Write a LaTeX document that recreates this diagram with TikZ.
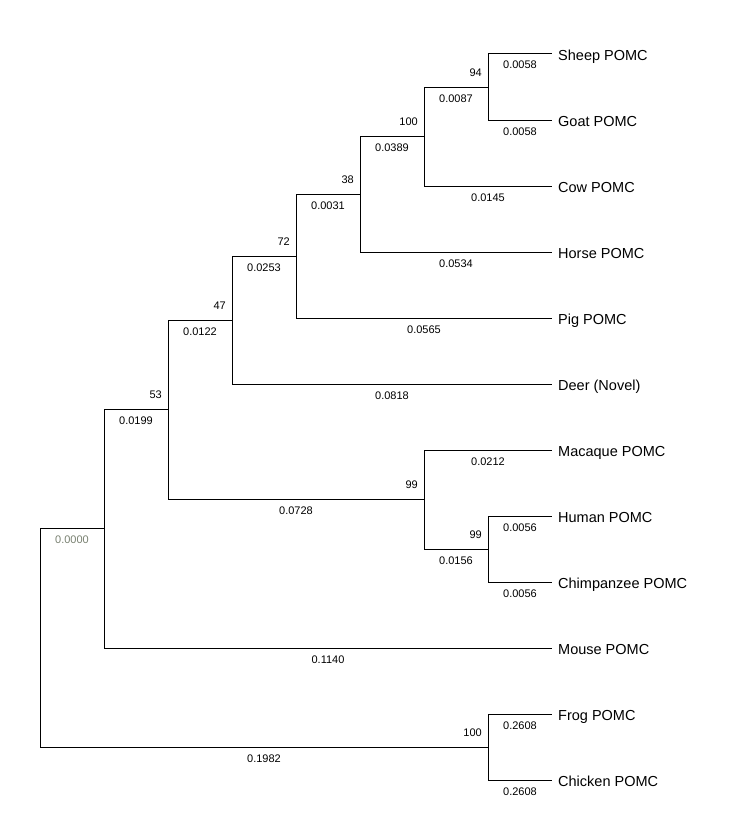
\documentclass[tikz,border=0pt]{standalone}
\usepackage{fontspec}
\setmainfont{Liberation Sans}
\begin{document}
\begin{tikzpicture}[x=1pt,y=-1pt,
  branch/.style={line width=1pt,black},
  brlen/.style={anchor=base,inner sep=0pt,font=\fontsize{11}{13}\selectfont},
  boot/.style={anchor=base east,inner sep=0pt,font=\fontsize{11}{13}\selectfont},
  leaf/.style={anchor=base west,inner sep=0pt,font=\fontsize{14.5}{17}\selectfont}]
\useasboundingbox (0,0) rectangle (728,816);
% leaf tips
\coordinate (tSheep) at (552,54);
\coordinate (tGoat) at (552,120);
\coordinate (tCow) at (552,186);
\coordinate (tHorse) at (552,252);
\coordinate (tPig) at (552,318);
\coordinate (tDeer) at (552,384);
\coordinate (tMacaque) at (552,450);
\coordinate (tHuman) at (552,516);
\coordinate (tChimp) at (552,582);
\coordinate (tMouse) at (552,648);
\coordinate (tFrog) at (552,714);
\coordinate (tChicken) at (552,780);
% internal nodes
\coordinate (A) at (488,87);
\coordinate (B) at (424,136.5);
\coordinate (C) at (360,194.25);
\coordinate (D) at (296,256.1);
\coordinate (E) at (232,320.1);
\coordinate (P2) at (488,549);
\coordinate (P1) at (424,499.5);
\coordinate (F) at (168,409.8);
\coordinate (G) at (104,528.9);
\coordinate (H) at (488,747);
\coordinate (R) at (40,637.95);
% branches
\draw[branch] (A) |- (tSheep) (A) |- (tGoat);
\draw[branch] (B) |- (A) (B) |- (tCow);
\draw[branch] (C) |- (B) (C) |- (tHorse);
\draw[branch] (D) |- (C) (D) |- (tPig);
\draw[branch] (E) |- (D) (E) |- (tDeer);
\draw[branch] (P2) |- (tHuman) (P2) |- (tChimp);
\draw[branch] (P1) |- (tMacaque) (P1) |- (P2);
\draw[branch] (F) |- (E) (F) |- (P1);
\draw[branch] (G) |- (F) (G) |- (tMouse);
\draw[branch] (H) |- (tFrog) (H) |- (tChicken);
\draw[branch] (R) |- (G) (R) |- (H);
% leaf labels
\node[leaf] (lSheep) at (558,60) {Sheep POMC};
\node[leaf] (lGoat) at (558,126) {Goat POMC};
\node[leaf] (lCow) at (558,192) {Cow POMC};
\node[leaf] (lHorse) at (558,258) {Horse POMC};
\node[leaf] (lPig) at (558,324) {Pig POMC};
\node[leaf] (lDeer) at (558,390) {Deer (Novel)};
\node[leaf] (lMacaque) at (558,456) {Macaque POMC};
\node[leaf] (lHuman) at (558,522) {Human POMC};
\node[leaf] (lChimp) at (558,588) {Chimpanzee POMC};
\node[leaf] (lMouse) at (558,654) {Mouse POMC};
\node[leaf] (lFrog) at (558,720) {Frog POMC};
\node[leaf] (lChicken) at (558,786) {Chicken POMC};
% branch lengths
\node[brlen] (bSheep) at (520,69) {0.0058};
\node[brlen] (bGoat) at (520,135) {0.0058};
\node[brlen] (bA) at (456,102) {0.0087};
\node[brlen] (bCow) at (488,201) {0.0145};
\node[brlen] (bB) at (392,151.5) {0.0389};
\node[brlen] (bHorse) at (456,267) {0.0534};
\node[brlen] (bC) at (328,209.25) {0.0031};
\node[brlen] (bPig) at (424,333) {0.0565};
\node[brlen] (bD) at (264,271.1) {0.0253};
\node[brlen] (bDeer) at (392,399) {0.0818};
\node[brlen] (bE) at (200,335.1) {0.0122};
\node[brlen] (bMacaque) at (488,465) {0.0212};
\node[brlen] (bHuman) at (520,531) {0.0056};
\node[brlen] (bChimp) at (520,597) {0.0056};
\node[brlen] (bP2) at (456,564) {0.0156};
\node[brlen] (bP1) at (296,514.5) {0.0728};
\node[brlen] (bF) at (136,424.8) {0.0199};
\node[brlen] (bMouse) at (328,663) {0.1140};
\node[brlen,text={rgb,255:red,120;green,128;blue,112}] (bG) at (72,543.9) {0.0000};
\node[brlen] (bFrog) at (520,729) {0.2608};
\node[brlen] (bChicken) at (520,795) {0.2608};
\node[brlen] (bH) at (264,762) {0.1982};
% bootstrap values
\node[boot] (sA) at (482,76) {94};
\node[boot] (sB) at (418,125.5) {100};
\node[boot] (sC) at (354,183.25) {38};
\node[boot] (sD) at (290,245.1) {72};
\node[boot] (sE) at (226,309.1) {47};
\node[boot] (sP2) at (482,538) {99};
\node[boot] (sP1) at (418,488.5) {99};
\node[boot] (sF) at (162,398.8) {53};
\node[boot] (sH) at (482,736) {100};
\end{tikzpicture}
\end{document}
